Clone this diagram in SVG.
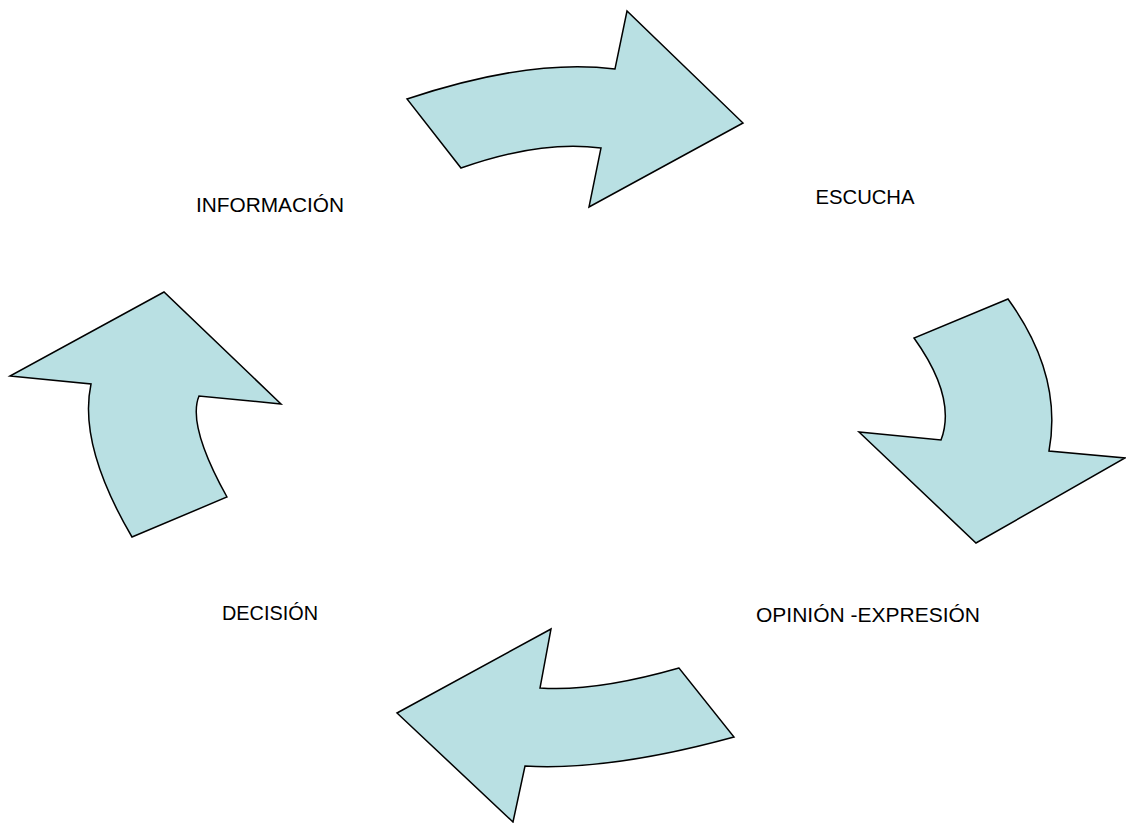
<svg xmlns="http://www.w3.org/2000/svg" width="1126" height="823" viewBox="0 0 1126 823">
<style>
.arrow{fill:#B9E0E3;stroke:#000;stroke-width:1.5;stroke-linejoin:miter}
.lbl{font-family:"Liberation Sans",Arial,sans-serif;font-size:20px;fill:#000}
</style>
<rect width="1126" height="823" fill="#fff"/>
<g id="connectors">
<path id="arrow-top" class="arrow" d="M407,99 Q530,58 615,69 L627,11 L743,123 L589,207 L601,148 Q540,140 461,168 Z"/>
<path id="arrow-right" class="arrow" d="M1008,299 Q1063,375 1049,451 L1125,458 L976,543 L859,432 L941,440 Q957,398 914,338 Z"/>
<path id="arrow-bottom" class="arrow" d="M679,668 Q595,692 540,688 L551,629 L397,713 L513,822 L525,766 Q610,771 734,737 Z"/>
<path id="arrow-left" class="arrow" d="M132,537 Q78,445 91,384 L10,376 L164,292 L281,404 L199,396 Q187,425 227,497 Z"/>
</g>
<g id="node-informacion"><text class="lbl" x="196" y="211.5" textLength="148" lengthAdjust="spacingAndGlyphs">INFORMACIÓN</text></g>
<g id="node-escucha"><text class="lbl" x="815.5" y="204.3" textLength="99" lengthAdjust="spacingAndGlyphs">ESCUCHA</text></g>
<g id="node-opinion"><text class="lbl" x="756" y="621.5" textLength="224" lengthAdjust="spacingAndGlyphs">OPINIÓN -EXPRESIÓN</text></g>
<g id="node-decision"><text class="lbl" x="222" y="620" textLength="96" lengthAdjust="spacingAndGlyphs">DECISIÓN</text></g>
</svg>
